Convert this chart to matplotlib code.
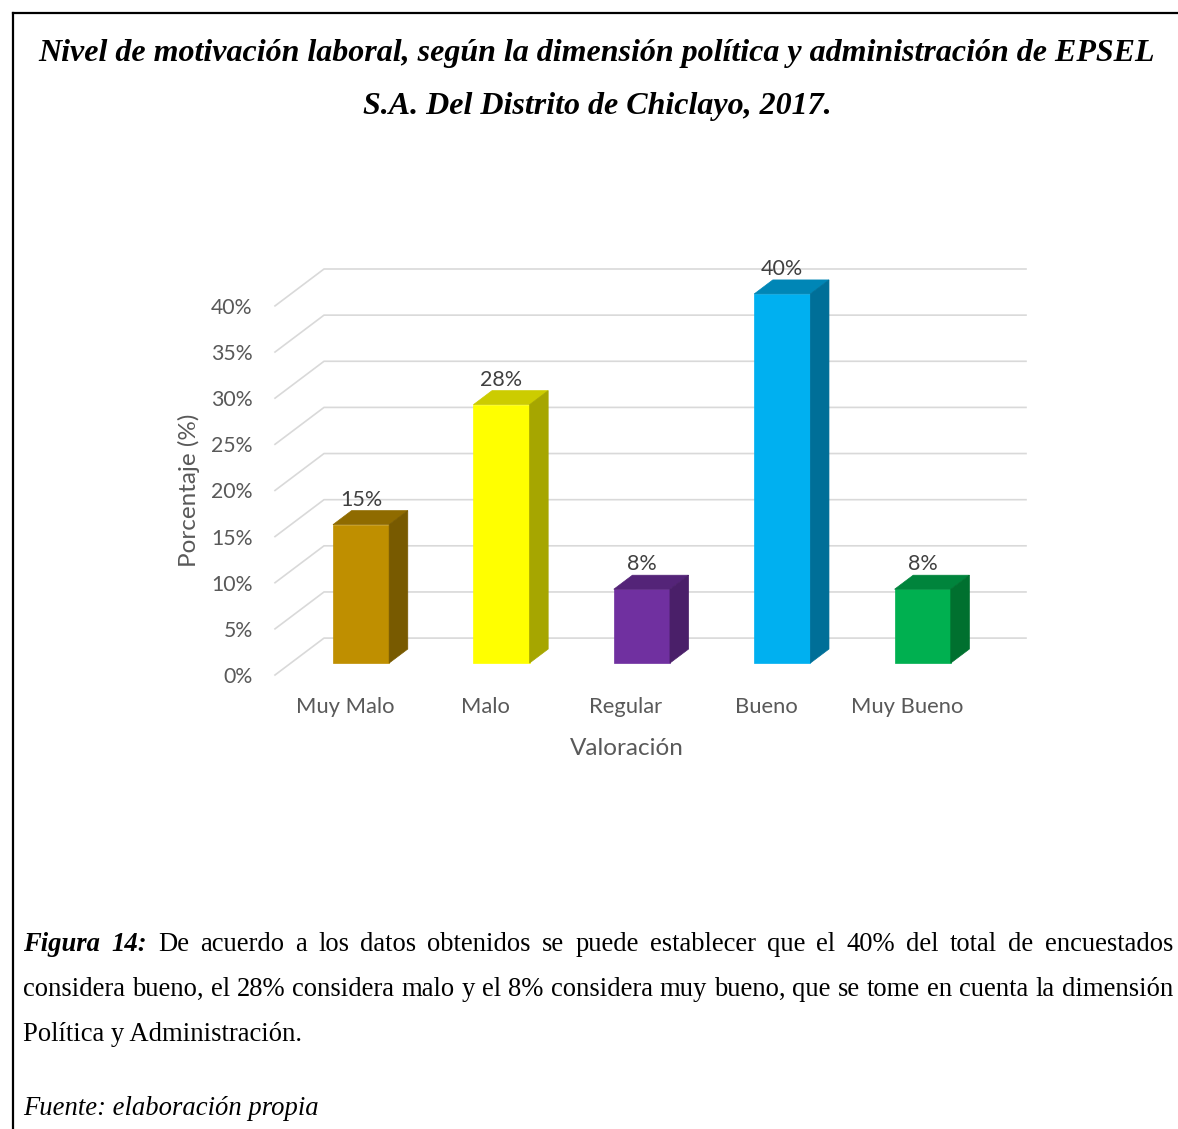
import numpy as np
import matplotlib
matplotlib.use("Agg")
import matplotlib.pyplot as plt
from matplotlib.patches import Polygon
from matplotlib.lines import Line2D

# datos
categorias = ["Muy Malo", "Malo", "Regular", "Bueno", "Muy Bueno"]
valores = [15, 28, 8, 40, 8]
ticks = [0, 5, 10, 15, 20, 25, 30, 35, 40]
etiquetas_y = [f"{t}%" for t in ticks]
frente = ["#BF8F00", "#FFFF00", "#7030A0", "#00B0F0", "#00B050"]
arriba = ["#8F6B00", "#CCCC00", "#542478", "#0086B6", "#00843C"]
lado = ["#785A00", "#A6A600", "#4A1F69", "#006F98", "#00702F"]

titulo1 = "Nivel de motivación laboral, según la dimensión política y administración de EPSEL"
titulo2 = "S.A. Del Distrito de Chiclayo, 2017."
linea1 = "De acuerdo a los datos obtenidos se puede establecer que el 40% del total de encuestados"
linea2 = "considera bueno, el 28% considera malo y el 8% considera muy bueno, que se tome en cuenta la dimensión"
linea3 = "Política y Administración."
fuente = "Fuente: elaboración propia"

W, H = 1178, 1129
fig = plt.figure(figsize=(W / 100, H / 100), dpi=100)
fig.patch.set_facecolor("white")

# profundidad del "3D"
dx, dy = 0.349, 4.0
f0, fb = 0.324, 0.38
ancho = 0.4
gris = "#595959"

ax = fig.add_axes([275 / W, 1 - 675 / H, 751 / W, 406 / H])
ax.set_xlim(-0.5, len(categorias) - 0.5 + dx)
ax.set_ylim(0, 44)
for s in ax.spines.values():
    s.set_visible(False)

n = len(categorias)
for t in ticks:
    ax.plot([-0.5, -0.5 + dx, n - 0.5 + dx], [t, t + dy, t + dy],
            color="#D9D9D9", lw=1.2, zorder=1, clip_on=False)

for i, v in enumerate(valores):
    x0 = i - ancho / 2 + f0 * dx
    x1 = x0 + ancho
    b = f0 * dy
    top = b + v
    bx, by = fb * dx, fb * dy
    ax.add_patch(Polygon([(x0, b), (x1, b), (x1, top), (x0, top)],
                         closed=True, fc=frente[i], ec=frente[i], lw=0.5, zorder=3))
    ax.add_patch(Polygon([(x0, top), (x1, top), (x1 + bx, top + by), (x0 + bx, top + by)],
                         closed=True, fc=arriba[i], ec=arriba[i], lw=0.5, zorder=3))
    ax.add_patch(Polygon([(x1, b), (x1, top), (x1 + bx, top + by), (x1 + bx, b + by)],
                         closed=True, fc=lado[i], ec=lado[i], lw=0.5, zorder=3))
    ax.text((x0 + x1) / 2, top + by + 1.2, f"{v}%", ha="center", va="center",
            fontsize=15.5, family="Lato", color="#404040", zorder=4)

ax.set_yticks(ticks)
ax.set_yticklabels(etiquetas_y, family="Lato", fontsize=15.3, color=gris)
ax.set_xticks(range(n))
ax.set_xticklabels(categorias, family="Lato", fontsize=15.8, color=gris)
ax.tick_params(axis="y", length=0, pad=16)
ax.tick_params(axis="x", length=0, pad=15.5)
ax.set_ylabel("Porcentaje (%)", family="Lato", fontsize=17.5, color=gris)
ax.yaxis.set_label_coords(-0.0998, 20 / 44)
ax.set_xlabel("Valoración", family="Lato", fontsize=17.5, color=gris)
ax.xaxis.set_label_coords(0.4687, -0.155)

# borde de la página
fig.add_artist(Line2D([13 / W, 1], [1 - 13 / H, 1 - 13 / H], color="black", lw=1.6))
fig.add_artist(Line2D([13 / W, 13 / W], [1 - 13 / H, 0], color="black", lw=1.6))

# título
serif = "Liberation Serif"
fig.text(597 / W, 1 - 53 / H, titulo1, ha="center", va="center", family=serif,
         fontsize=23, weight="bold", style="italic")
fig.text(597 / W, 1 - 107 / H, titulo2, ha="center", va="center", family=serif,
         fontsize=23, weight="bold", style="italic")

# texto justificado
renderer = fig.canvas.get_renderer()
fs = 19.2


def justificar(palabras, ybase, xa, xb):
    arts = []
    total = 0
    for txt, kw in palabras:
        t = fig.text(0, 1 - ybase / H, txt, ha="left", va="baseline", family=serif,
                     fontsize=fs, **kw)
        w = t.get_window_extent(renderer).width
        arts.append((t, w))
        total += w
    gap = (xb - xa - total) / (len(arts) - 1)
    x = xa
    for t, w in arts:
        t.set_x(x / W)
        x += w + gap


bi = dict(weight="bold", style="italic")
p1 = [("Figura", bi), ("14:", bi)] + [(w, {}) for w in linea1.split()]
justificar(p1, 951, 23, 1173)
justificar([(w, {}) for w in linea2.split()], 996, 23, 1173)
fig.text(23 / W, 1 - 1041 / H, linea3, ha="left", va="baseline", family=serif, fontsize=fs)
fig.text(23 / W, 1 - 1115 / H, fuente, ha="left", va="baseline", family=serif,
         fontsize=fs, style="italic")

fig.savefig("out.png", dpi=100)
